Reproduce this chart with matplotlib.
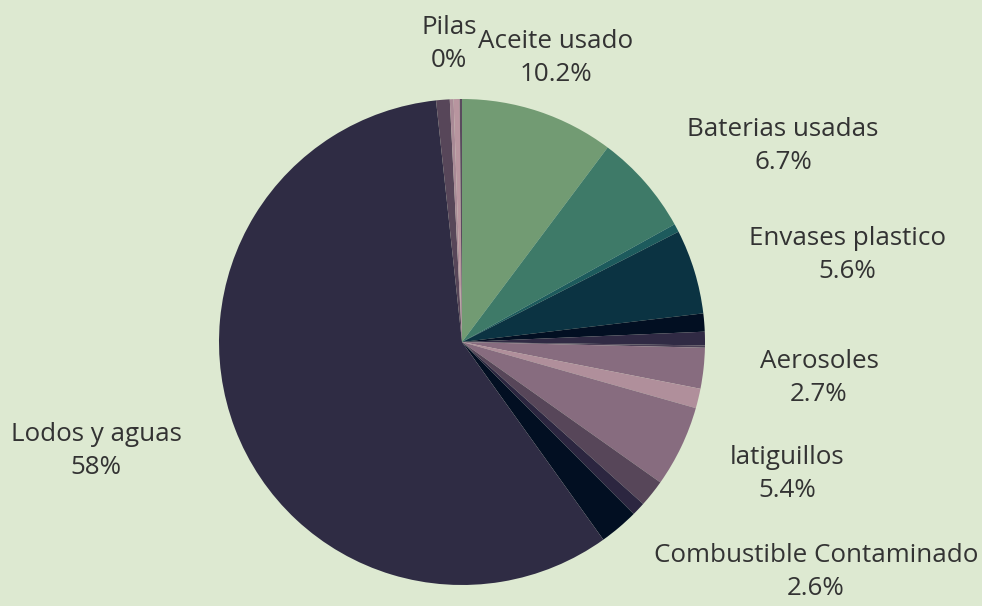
import matplotlib
matplotlib.use("Agg")
import matplotlib.pyplot as plt

# slices, clockwise from 12 o'clock
names = ["Aceite usado", "Baterias usadas", "", "Envases plastico", "", "", "",
         "Aerosoles", "", "latiguillos", "", "", "Combustible Contaminado",
         "Lodos y aguas", "", "", "", "Pilas"]
values = [10.2, 6.7, 0.55, 5.6, 1.2, 0.9, 0.15, 2.7, 1.3, 5.4, 1.8, 0.9, 2.6,
          58.0, 0.9, 0.25, 0.4, 0.15]
pct_text = ["10.2%", "6.7%", "", "5.6%", "", "", "", "2.7%", "", "5.4%", "", "",
            "2.6%", "58%", "", "", "", "0%"]
colors = ["#729b73", "#3e7a68", "#1d5b5d", "#0b3342", "#020f22", "#302a44", "#4a3f55",
          "#876c7f", "#b08f9b", "#876c7f", "#574659", "#2c2640", "#020f22",
          "#2f2c44", "#574659", "#a98a96", "#b8959f", "#5a4a5e"]

# label block centres in pixels (x, y from top)
label_px = {"Aceite usado": (556, 58), "Baterias usadas": (783, 146),
            "Envases plastico": (847, 255), "Aerosoles": (819, 378),
            "latiguillos": (787, 474), "Combustible Contaminado": (816, 572),
            "Lodos y aguas": (96, 451), "Pilas": (449, 44)}

bg = "#dde9d1"
W, H = 982, 606
cx, cy, R = 462, 342, 243

plt.rcParams['font.family'] = ['Open Sans', 'DejaVu Sans']

fig = plt.figure(figsize=(W / 100, H / 100), dpi=100, facecolor=bg)
ax = fig.add_axes([0, 0, 1, 1])
ax.set_facecolor(bg)

ax.pie(values, colors=colors, startangle=90, counterclock=False, radius=1,
       wedgeprops=dict(linewidth=0))

ax.set_aspect("auto")
ax.set_xlim(-cx / R, (W - cx) / R)
ax.set_ylim(-(H - cy) / R, cy / R)
ax.axis("off")

for name, pct in zip(names, pct_text):
    if not name:
        continue
    px, py = label_px[name]
    ax.text((px - cx) / R, (cy - py) / R, name + "\n" + pct, ha="center", va="center",
            multialignment="center", fontsize=18.7, color="#333333", linespacing=1.45)

fig.savefig("out.png", dpi=100, facecolor=bg)
